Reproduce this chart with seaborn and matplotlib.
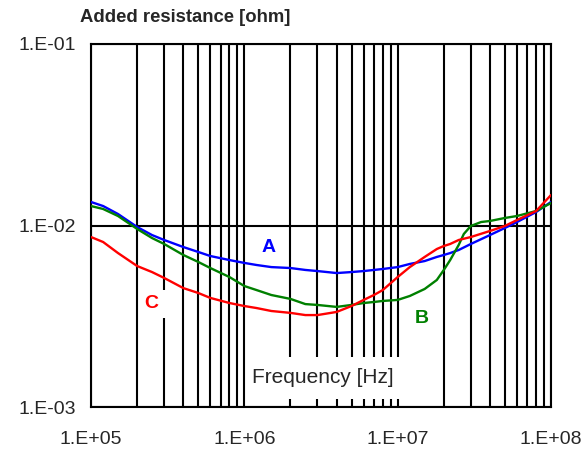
import numpy as np
import pandas as pd
import matplotlib
matplotlib.use("Agg")
import matplotlib.pyplot as plt
from matplotlib.patches import Rectangle
import seaborn as sns
from matplotlib.ticker import LogLocator, NullLocator

# Frequency sweep points [Hz]
freq_a = [1e5, 1.2e5, 1.5e5, 2e5, 2.5e5, 3e5, 4e5, 5e5, 6e5, 8e5,
          1e6, 1.2e6, 1.5e6, 2e6, 2.5e6, 3e6, 4e6, 5e6, 6e6, 7e6, 8e6,
          1e7, 1.2e7, 1.5e7, 1.8e7, 2e7, 2.2e7, 2.5e7, 3e7, 4e7, 5e7, 6e7, 8e7, 1e8]
res_a = [0.01348, 0.0128, 0.01157, 0.00981, 0.00886, 0.00832, 0.00761, 0.00715, 0.00679, 0.00645,
         0.00622, 0.00606, 0.0059, 0.00583, 0.00569, 0.00561, 0.00547, 0.00554, 0.00561, 0.00569, 0.00576,
         0.0059, 0.00614, 0.00637, 0.00671, 0.00688, 0.00705, 0.00733, 0.00791, 0.00886, 0.00969, 0.01045, 0.01187, 0.01348]

freq_b = [1e5, 1.2e5, 1.5e5, 2e5, 2.5e5, 3e5, 4e5, 5e5, 6e5, 8e5,
          1e6, 1.2e6, 1.5e6, 2e6, 2.5e6, 3e6, 4e6, 5e6, 6e6, 7e6, 8e6,
          1e7, 1.2e7, 1.5e7, 1.8e7, 2e7, 2.2e7, 2.5e7, 2.7e7, 3e7, 3.5e7, 4e7, 5e7, 6e7, 8e7, 1e8]
res_b = [0.0128, 0.01233, 0.01128, 0.00957, 0.00853, 0.00791, 0.00688, 0.0063, 0.00583, 0.0052,
         0.00464, 0.00441, 0.00414, 0.00394, 0.00369, 0.00365, 0.00356, 0.00365, 0.00374, 0.00379, 0.00384,
         0.00389, 0.00409, 0.00447, 0.00501, 0.00569, 0.00645, 0.00781, 0.00898, 0.00994, 0.01045, 0.01059,
         0.0110, 0.01128, 0.01202, 0.0133]

freq_c = [1e5, 1.2e5, 1.5e5, 2e5, 2.5e5, 3e5, 4e5, 5e5, 6e5, 8e5,
          1e6, 1.2e6, 1.5e6, 2e6, 2.5e6, 3e6, 4e6, 5e6, 6e6, 7e6, 8e6,
          1e7, 1.2e7, 1.5e7, 1.8e7, 2e7, 2.2e7, 2.5e7, 3e7, 4e7, 5e7, 6e7, 8e7, 1e8]
res_c = [0.00864, 0.00811, 0.00705, 0.00598, 0.00554, 0.00514, 0.00452, 0.00425, 0.00399, 0.00374,
         0.0036, 0.00351, 0.00338, 0.0033, 0.00321, 0.00321, 0.00334, 0.0036, 0.00389, 0.00414, 0.00441,
         0.0052, 0.0059, 0.00671, 0.00742, 0.00771, 0.00791, 0.00832, 0.00864, 0.00933, 0.00994, 0.01072,
         0.01202, 0.01472]

series_names = ["A", "B", "C"]
series_colors = {"A": "#0000FF", "B": "#008000", "C": "#FF0000"}

# Label anchor points (frequency, resistance)
label_pos = {"A": (1.43e6, 0.00752), "B": (1.44e7, 0.00307), "C": (2.46e5, 0.00372)}
xlabel_pos = (3.24e6, 0.001445)

x_ticks = [1e5, 1e6, 1e7, 1e8]
x_tick_labels = ["1.E+05", "1.E+06", "1.E+07", "1.E+08"]
y_ticks = [1e-3, 1e-2, 1e-1]
y_tick_labels = ["1.E-03", "1.E-02", "1.E-01"]

df = pd.concat([
    pd.DataFrame({"freq": freq_a, "res": res_a, "curve": "A"}),
    pd.DataFrame({"freq": freq_b, "res": res_b, "curve": "B"}),
    pd.DataFrame({"freq": freq_c, "res": res_c, "curve": "C"}),
], ignore_index=True)

sns.set_style("white")
plt.rcParams["font.family"] = ["Liberation Sans", "DejaVu Sans"]

fig = plt.figure(figsize=(5.88, 4.55), dpi=100)
ax = fig.add_axes([91 / 588, 1 - 407 / 455, 460 / 588, 363 / 455])

sns.lineplot(data=df, x="freq", y="res", hue="curve", palette=series_colors,
             hue_order=series_names, estimator=None, sort=False, linewidth=1.7,
             legend=False, ax=ax, zorder=4)

ax.set_xscale("log")
ax.set_yscale("log")
ax.set_xlim(1e5, 1e8)
ax.set_ylim(1e-3, 1e-1)

ax.set_xticks(x_ticks)
ax.set_xticklabels(x_tick_labels)
ax.xaxis.set_minor_locator(LogLocator(base=10, subs=np.arange(2, 10), numticks=20))
ax.set_yticks(y_ticks)
ax.set_yticklabels(y_tick_labels)
ax.yaxis.set_minor_locator(NullLocator())

ax.grid(True, which="both", axis="x", color="black", linewidth=1.5)
ax.grid(True, which="major", axis="y", color="black", linewidth=1.5)
ax.set_axisbelow(True)

for s in ax.spines.values():
    s.set_visible(True)
    s.set_color("black")
    s.set_linewidth(1.5)

ax.tick_params(axis="x", which="both", length=0, pad=17, labelsize=14)
ax.tick_params(axis="y", which="major", length=6.5, width=1.5, direction="out",
               pad=4.5, labelsize=14, color="black")
ax.set_xlabel("")
ax.set_ylabel("")

# Curve labels; "C" sits on a white patch that hides the grid behind it
for name in series_names:
    fx, fy = label_pos[name]
    ax.text(fx, fy, name, color=series_colors[name], fontsize=14, fontweight="bold",
            ha="center", va="center", zorder=3)
cx, cy = label_pos["C"]
ax.add_patch(Rectangle((cx / 1.19, cy / 1.2), cx * 1.25 - cx / 1.19, cy * 1.19 - cy / 1.2,
                       facecolor="white", edgecolor="none", zorder=2))

# Axis caption inside the plot, on its own white patch
lx, ly = xlabel_pos
ax.add_patch(Rectangle((lx / 3.15, ly / 1.305), lx * 3.18 - lx / 3.15, ly * 1.305 - ly / 1.305,
                       facecolor="white", edgecolor="none", zorder=2))
ax.text(lx, ly, "Frequency [Hz]", fontsize=15, ha="center", va="center", zorder=3)

fig.text(80 / 588, 1 - 18 / 455, "Added resistance [ohm]", fontsize=13.3, fontweight="bold",
         ha="left", va="center")

fig.savefig("out.png", dpi=100, facecolor="white")
